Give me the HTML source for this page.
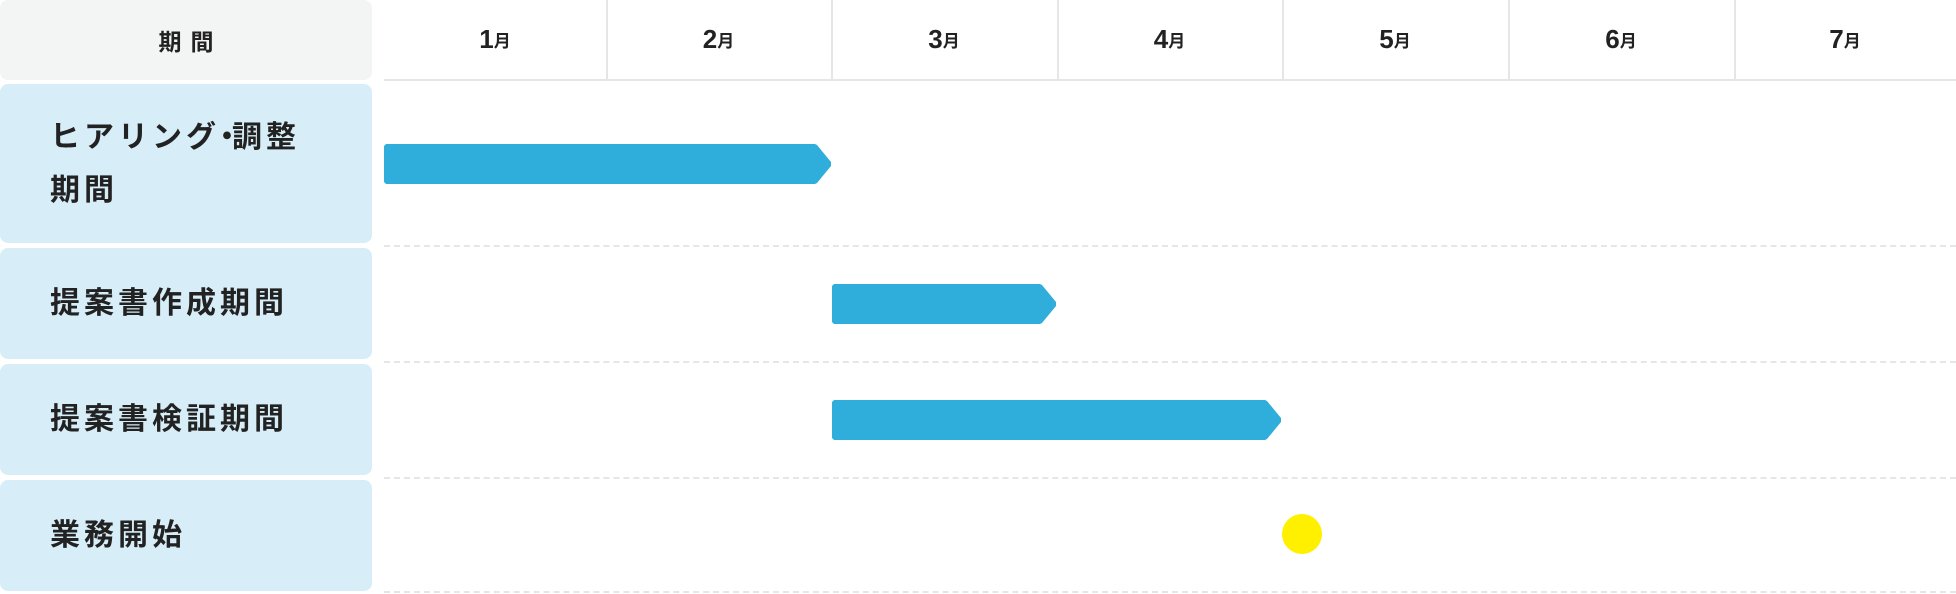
<!DOCTYPE html>
<html><head><meta charset="utf-8"><style>
body{margin:0;width:1956px;height:594px;background:#fff;position:relative;overflow:hidden;font-family:"Liberation Sans","Noto Sans CJK JP",sans-serif;color:#222;font-weight:bold}
.a{position:absolute}
.hd{left:0;top:0;width:372px;height:80px;background:#f3f5f4;border-radius:8px;display:flex;align-items:center;justify-content:center;font-size:23px;letter-spacing:9px;padding-left:9px;box-sizing:border-box}
.lb{left:0;width:372px;background:#d7eef8;border-radius:8px;box-sizing:border-box;padding-left:50px;display:flex;align-items:center;font-size:30px;letter-spacing:4px;line-height:53px}
.m{top:0;height:79px;display:flex;align-items:center;justify-content:center;font-size:26px}
.m span{font-size:17px}
.vl{top:0;width:2px;height:80px;background:#e6e6e6}
.dl{left:384px;width:1572px;height:0;border-top:2px dashed #e6e6e6}
.bar{background:#30aedb;clip-path:polygon(0 2px,2px 0,calc(100% - 16px) 0,calc(100% - 14px) 1px,100% 18px,100% 22px,calc(100% - 14px) 39px,calc(100% - 16px) 40px,2px 40px,0 38px);height:40px}
.dot{letter-spacing:-10px;margin-left:-8px}
</style></head><body>
<div class="a hd">期間</div>
<div class="a" style="left:384px;top:79px;width:1572px;height:2px;background:#e6e6e6"></div>
<div class="a vl" style="left:606px"></div>
<div class="a vl" style="left:831px"></div>
<div class="a vl" style="left:1057px"></div>
<div class="a vl" style="left:1282px"></div>
<div class="a vl" style="left:1508px"></div>
<div class="a vl" style="left:1734px"></div>
<div class="a m" style="left:384px;width:222px">1<span>月</span></div>
<div class="a m" style="left:606px;width:225px">2<span>月</span></div>
<div class="a m" style="left:831px;width:226px">3<span>月</span></div>
<div class="a m" style="left:1057px;width:225px">4<span>月</span></div>
<div class="a m" style="left:1282px;width:226px">5<span>月</span></div>
<div class="a m" style="left:1508px;width:226px">6<span>月</span></div>
<div class="a m" style="left:1734px;width:222px">7<span>月</span></div>

<div class="a lb" style="top:84px;height:159px"><div>ヒアリング<span class="dot">・</span>調整<br>期間</div></div>
<div class="a lb" style="top:248px;height:111px">提案書作成期間</div>
<div class="a lb" style="top:364px;height:111px">提案書検証期間</div>
<div class="a lb" style="top:480px;height:111px">業務開始</div>

<div class="a dl" style="top:245px"></div>
<div class="a dl" style="top:361px"></div>
<div class="a dl" style="top:477px"></div>
<div class="a dl" style="top:591px"></div>

<div class="a bar" style="left:384px;top:144px;width:447px"></div>
<div class="a bar" style="left:832px;top:284px;width:224px"></div>
<div class="a bar" style="left:832px;top:400px;width:449px"></div>
<div class="a" style="left:1282px;top:514px;width:40px;height:40px;border-radius:50%;background:#fff000"></div>
</body></html>
